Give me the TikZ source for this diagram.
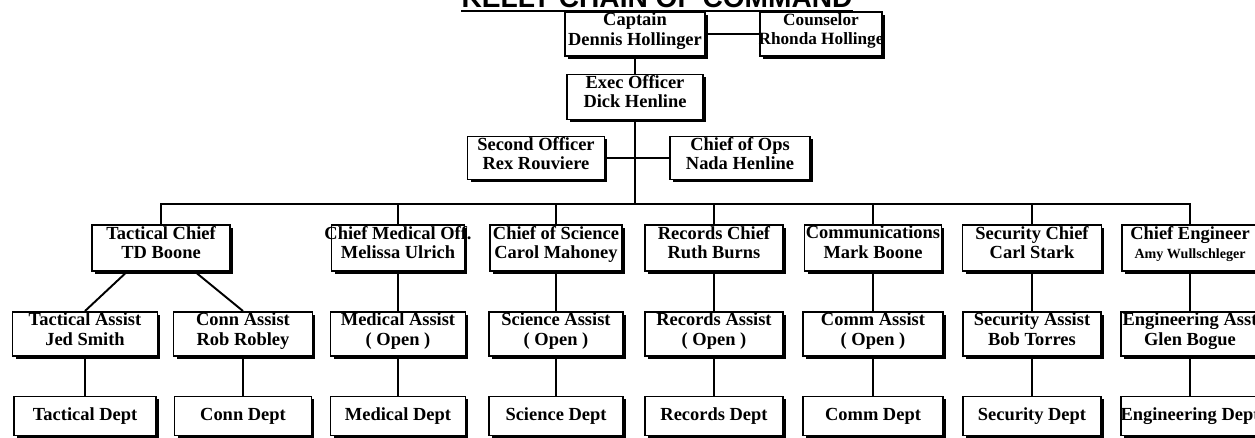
\documentclass[tikz,border=0pt]{standalone}
\usepackage{fontspec}
\setmainfont{Liberation Serif}
\newfontfamily\titlefont{Liberation Sans}
\usetikzlibrary{shadows}

\begin{document}
\begin{tikzpicture}[x=0.02cm, y=-0.02cm,
    unit/.style={draw, line width=1.1pt, fill=white, inner sep=0pt,
      minimum width=2.76cm,
      drop shadow={shadow xshift=1.7pt, shadow yshift=-1.7pt, fill=black, opacity=1}},
    headbox/.style={unit, minimum height=0.88cm},
    chiefbox/.style={unit, minimum height=0.92cm},
    asstbox/.style={unit, minimum height=0.88cm},
    deptbox/.style={unit, minimum height=0.78cm, font=\bfseries\fontsize{10.5}{11}\selectfont},
    ttl/.style={anchor=north, align=center, inner sep=1pt, font=\bfseries\fontsize{10.5}{11}\selectfont},
    link/.style={line width=1.1pt}]

        \useasboundingbox (0,0) rectangle (1255,438);

        % Title (runs off the top of the page)
        \node[anchor=base, inner sep=0pt, font=\titlefont\bfseries\fontsize{16}{16}\selectfont] (title) at (657,8) {KELLY CHAIN OF COMMAND};
        \draw[line width=1.2pt] ([yshift=-1.5pt]title.base west) -- ([yshift=-1.5pt]title.base east);

        % Captain and counselor
        \node[headbox, minimum width=2.8cm, label={[ttl]north:{Captain\\Dennis Hollinger}}] (cap) at (635,34) {};
        \node[headbox, minimum width=2.44cm, label={[ttl, font=\bfseries\fontsize{9.8}{11}\selectfont]north:{Counselor\\Rhonda Hollinge}}] (cou) at (821,34) {};
        \draw[link] (cap) -- (cou);

        % Exec officer
        \node[headbox, minimum width=2.72cm, minimum height=0.9cm, label={[ttl]north:{Exec Officer\\Dick Henline}}] (exec) at (635,97) {};
        \draw[link] (cap) -- (exec);

        % Second officer and chief of ops
        \node[headbox, minimum width=2.74cm, minimum height=0.86cm, label={[ttl]north:{Second Officer\\Rex Rouviere}}] (sec) at (536,158) {};
        \node[headbox, minimum width=2.8cm, minimum height=0.86cm, label={[ttl]north:{Chief of Ops\\Nada Henline}}] (ops) at (740,158) {};
        \draw[link] (sec) -- (ops);

        % Main bus
        \coordinate (bus) at (635,204);
        \draw[link] (exec) -- (bus);

        % Chiefs
        \node[chiefbox, label={[ttl]north:{Tactical Chief\\TD Boone}}] (tac) at (161,248) {};
        \node[chiefbox, minimum width=2.66cm, label={[ttl]north:{Chief Medical Off.\\Melissa Ulrich}}] (med) at (398,248) {};
        \node[chiefbox, minimum width=2.64cm, label={[ttl]north:{Chief of Science\\Carol Mahoney}}] (sci) at (556,248) {};
        \node[chiefbox, label={[ttl]north:{Records Chief\\Ruth Burns}}] (rec) at (714,248) {};
        \node[chiefbox, minimum width=2.74cm, label={[ttl]north:{Communications\\Mark Boone}}] (com) at (873,248) {};
        \node[chiefbox, minimum width=2.78cm, label={[ttl]north:{Security Chief\\Carl Stark}}] (secu) at (1032,248) {};
        \node[chiefbox, minimum width=2.72cm, label={[ttl]north:{Chief Engineer\\{\fontsize{8}{9}\selectfont Amy Wullschleger}}}] (eng) at (1190,248) {};
        \draw[link] (tac.north) |- (bus) -| (eng.north);
        \foreach \n in {med,sci,rec,com,secu}
            \draw[link] (\n.north) -- (\n.north |- bus);

        % Assistants
        \node[asstbox, minimum width=2.9cm, label={[ttl]north:{Tactical Assist\\Jed Smith}}] (tac-a) at (85,334) {};
        \node[asstbox, minimum width=2.78cm, label={[ttl]north:{Conn Assist\\Rob Robley}}] (con-a) at (243,334) {};
        \node[asstbox, minimum width=2.7cm, label={[ttl]north:{Medical Assist\\( Open )}}] (med-a) at (398,334) {};
        \node[asstbox, minimum width=2.68cm, label={[ttl]north:{Science Assist\\( Open )}}] (sci-a) at (556,334) {};
        \node[asstbox, label={[ttl]north:{Records Assist\\( Open )}}] (rec-a) at (714,334) {};
        \node[asstbox, minimum width=2.8cm, label={[ttl]north:{Comm Assist\\( Open )}}] (com-a) at (873,334) {};
        \node[asstbox, label={[ttl]north:{Security Assist\\Bob Torres}}] (secu-a) at (1032,334) {};
        \node[asstbox, label={[ttl]north:{Engineering Asst\\Glen Bogue}}] (eng-a) at (1190,334) {};
        \draw[link] (tac.215) -- (tac-a.north);
        \draw[link] (tac.325) -- (con-a.north);
        \foreach \n in {med,sci,rec,com,secu,eng}
            \draw[link] (\n) -- (\n-a);

        % Departments
        \node[deptbox, minimum width=2.84cm] (tac-d) at (85,416) {Tactical Dept};
        \node[deptbox, minimum width=2.74cm] (con-d) at (243,416) {Conn Dept};
        \node[deptbox, minimum width=2.7cm] (med-d) at (398,416) {Medical Dept};
        \node[deptbox, minimum width=2.68cm] (sci-d) at (556,416) {Science Dept};
        \node[deptbox] (rec-d) at (714,416) {Records Dept};
        \node[deptbox, minimum width=2.8cm] (com-d) at (873,416) {Comm Dept};
        \node[deptbox] (secu-d) at (1032,416) {Security Dept};
        \node[deptbox] (eng-d) at (1190,416) {Engineering Dept};
        \foreach \n in {tac,con,med,sci,rec,com,secu,eng}
            \draw[link] (\n-a) -- (\n-d);

\end{tikzpicture}
\end{document}
